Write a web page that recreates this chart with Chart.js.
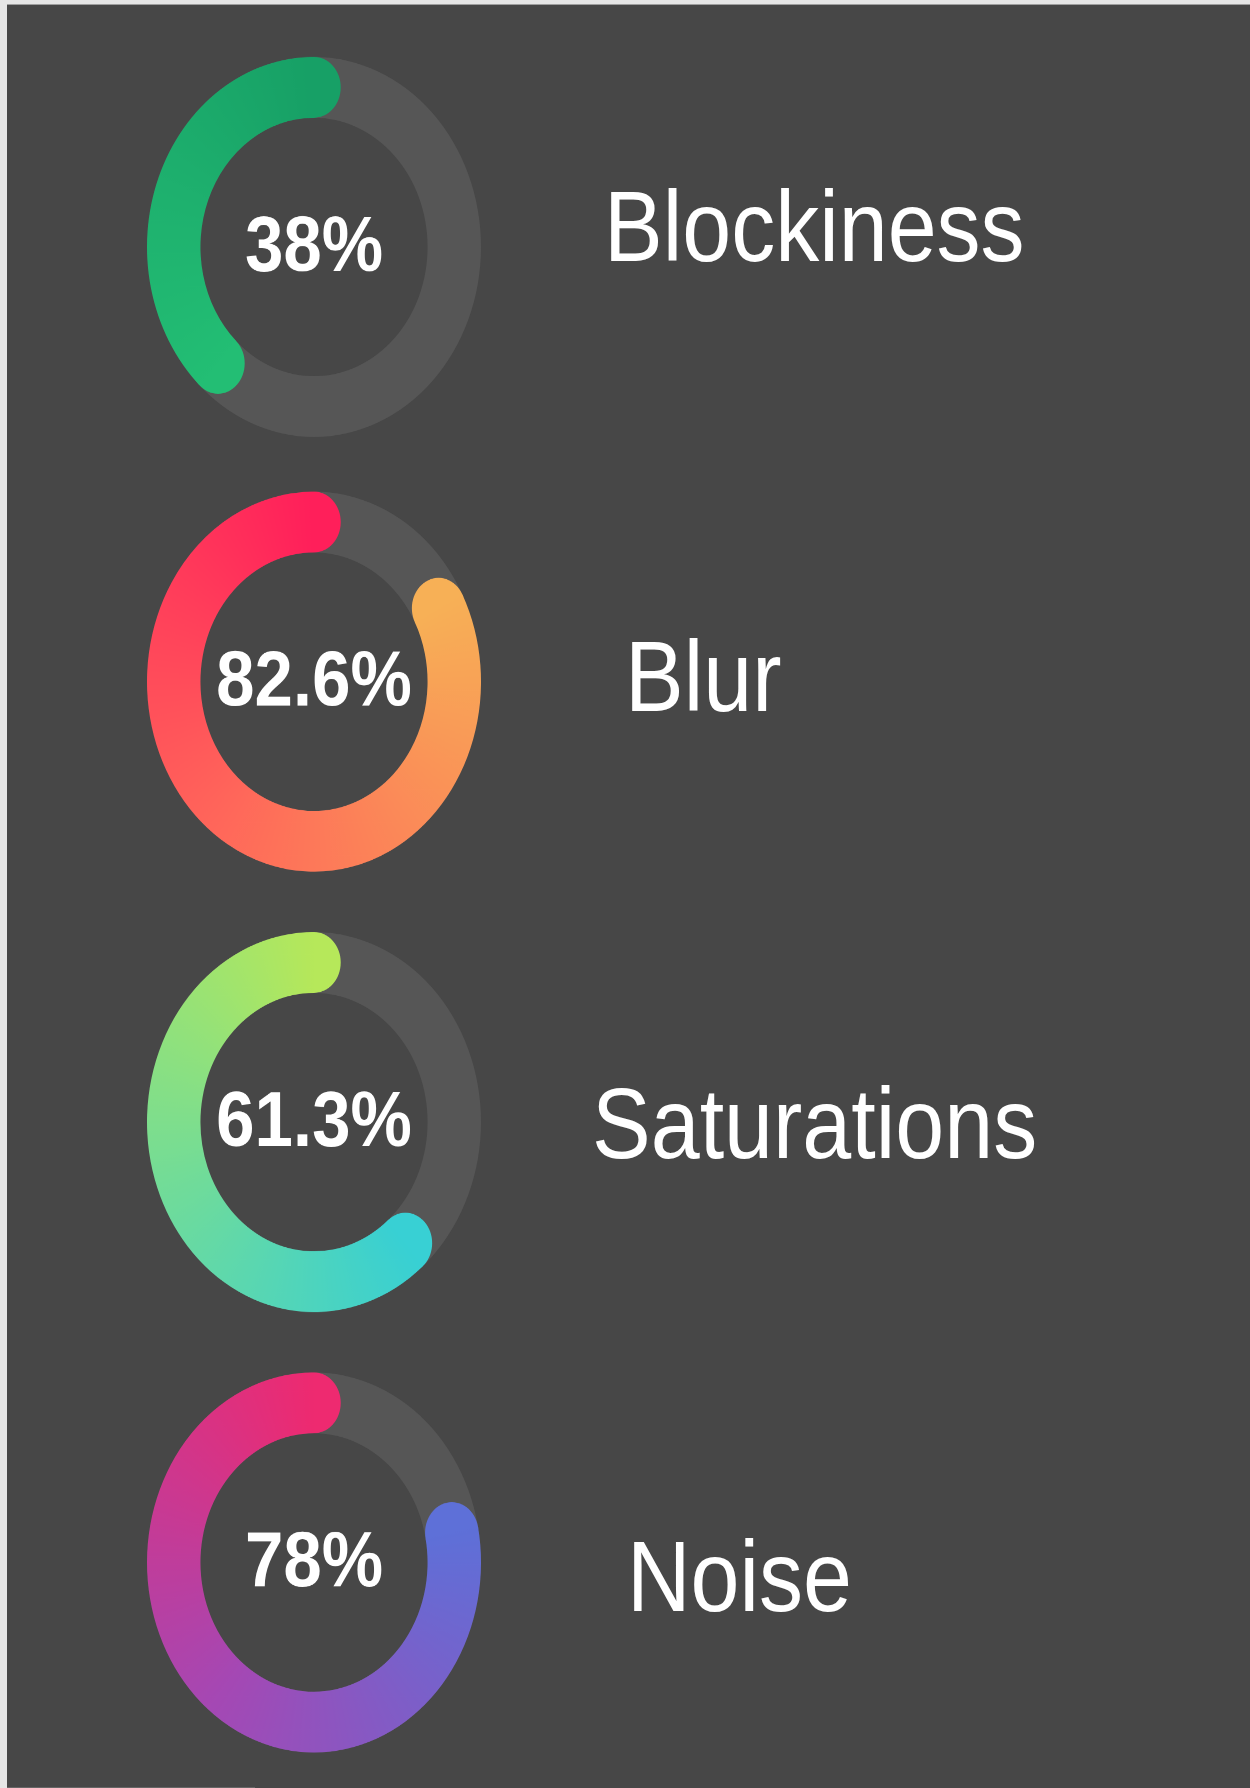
<!DOCTYPE html>
<html>
<head>
<meta charset="utf-8">
<script src="https://cdn.jsdelivr.net/npm/chart.js@4.4.1/dist/chart.umd.min.js"></script>
<style>
  html, body { margin: 0; padding: 0; background: #e6e6e6; overflow: hidden; }
  body { width: 1250px; height: 1788px; position: relative; }
  /* the reference is stretched vertically, so the whole page is drawn flat and scaled */
  #page {
    position: absolute; left: 0; top: 0; width: 1250px; height: 1571px;
    transform: scaleY(1.138); transform-origin: 0 0;
  }
  #panel { position: absolute; left: 7px; top: 4.4px; right: 0; bottom: 0; background: #474747; }
  .ring { position: absolute; width: 334px; height: 334px; left: 147px; }
  .label {
    position: absolute; color: #fff; font-family: "Liberation Sans", Arial, sans-serif;
    font-size: 88px; line-height: 88px; white-space: nowrap;
  }
</style>
</head>
<body>
<div id="page">
  <div id="panel"></div>
</div>
<script>
const labels = ['Blockiness', 'Blur', 'Saturations', 'Noise'];
const values = [38, 82.6, 61.3, 78];
const startColors = ['#17a066', '#ff1f5a', '#b6e85a', '#ee2a70'];
const midColors = ['#1eb06e', '#ff6a5a', '#72dc98', '#a548b4'];
const endColors = ['#23be74', '#f7b056', '#38d0d4', '#5e70d8'];

const trackColor = '#565656';
// layout (unstretched page coordinates)
const ringTops = [50, 432, 819, 1206];
const labelLeft = [604, 625, 592, 627];
const labelTop = [155, 551, 944, 1342];

const page = document.getElementById('page');

function gradientFor(chart, i) {
  const area = chart.chartArea;
  if (!area) return endColors[i];
  const cx = (area.left + area.right) / 2;
  const cy = (area.top + area.bottom) / 2;
  const v = values[i] / 100;
  const g = chart.ctx.createConicGradient(-Math.PI / 2, cx, cy);
  g.addColorStop(0, startColors[i]);
  g.addColorStop(0.04, startColors[i]);
  g.addColorStop(0.045, endColors[i]);
  g.addColorStop(1 - v, endColors[i]);
  g.addColorStop(1 - v / 2, midColors[i]);
  g.addColorStop(1, startColors[i]);
  return g;
}

const ringPlugin = {
  id: 'ringPlugin',
  beforeDatasetsDraw(chart) {
    const arc = chart.getDatasetMeta(0).data[0];
    const p = arc.getProps(['x', 'y', 'innerRadius', 'outerRadius'], true);
    const ctx = chart.ctx;
    ctx.save();
    ctx.beginPath();
    ctx.arc(p.x, p.y, p.outerRadius, 0, Math.PI * 2);
    ctx.arc(p.x, p.y, p.innerRadius, 0, Math.PI * 2, true);
    ctx.fillStyle = trackColor;
    ctx.fill();
    ctx.restore();
  },
  afterDatasetsDraw(chart, args, opts) {
    const arc = chart.getDatasetMeta(0).data[1];
    const p = arc.getProps(['x', 'y', 'startAngle', 'endAngle', 'innerRadius', 'outerRadius'], true);
    const ctx = chart.ctx;
    const mid = (p.innerRadius + p.outerRadius) / 2;
    const r = (p.outerRadius - p.innerRadius) / 2;
    ctx.save();
    // round caps on both ends of the value arc
    ctx.fillStyle = arc.options.backgroundColor;
    [p.startAngle, p.endAngle].forEach(a => {
      ctx.beginPath();
      ctx.arc(p.x + mid * Math.cos(a), p.y + mid * Math.sin(a), r, 0, Math.PI * 2);
      ctx.fill();
    });
    // percentage in the middle
    ctx.fillStyle = '#ffffff';
    ctx.font = 'bold 69px "Liberation Sans", Arial, sans-serif';
    ctx.textAlign = 'center';
    ctx.textBaseline = 'middle';
    ctx.fillText(opts.text, p.x, p.y + 2);
    ctx.restore();
  }
};

labels.forEach((name, i) => {
  const wrap = document.createElement('div');
  wrap.className = 'ring';
  wrap.style.top = ringTops[i] + 'px';
  const canvas = document.createElement('canvas');
  wrap.appendChild(canvas);
  page.appendChild(wrap);

  const lab = document.createElement('div');
  lab.className = 'label';
  lab.style.left = labelLeft[i] + 'px';
  lab.style.top = labelTop[i] + 'px';
  lab.textContent = name;
  page.appendChild(lab);

  new Chart(canvas.getContext('2d'), {
    type: 'doughnut',
    data: {
      labels: ['rest', name],
      datasets: [{
        data: [100 - values[i], values[i]],
        backgroundColor: c => c.dataIndex === 0 ? 'rgba(0,0,0,0)' : gradientFor(c.chart, i),
        borderWidth: 0
      }]
    },
    options: {
      responsive: true,
      maintainAspectRatio: false,
      devicePixelRatio: 2,
      animation: false,
      events: [],
      cutout: '68%',
      layout: { padding: 0 },
      plugins: {
        legend: { display: false },
        tooltip: { enabled: false },
        ringPlugin: { text: values[i] + '%' }
      }
    },
    plugins: [ringPlugin]
  });
});
</script>
</body>
</html>
